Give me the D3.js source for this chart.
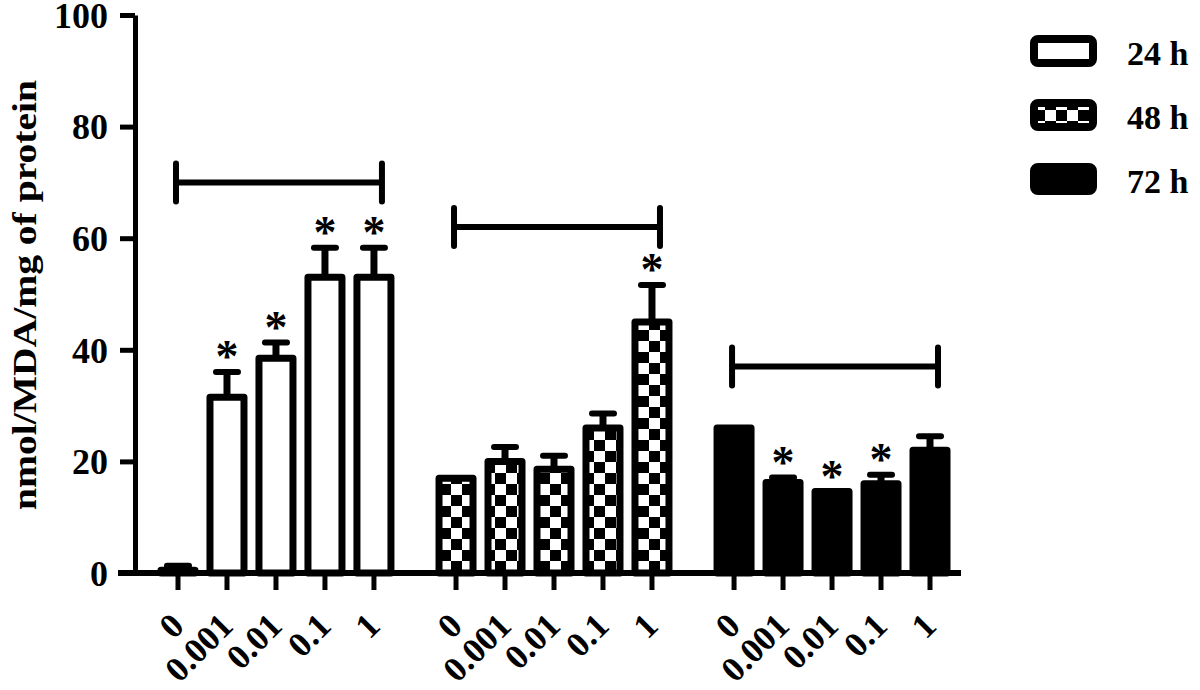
<!DOCTYPE html>
<html>
<head>
<meta charset="utf-8">
<script src="https://cdn.jsdelivr.net/npm/d3@7"></script>
<style>
  html, body { margin: 0; padding: 0; background: #fff; }
  svg { display: block; }
  text { font-family: "Liberation Serif", "Times New Roman", serif; font-weight: bold; fill: #000; }
</style>
</head>
<body>
<svg id="chart" width="1200" height="690"></svg>
<script>
// ---- data ----
const concentrations = ["0", "0.001", "0.01", "0.1", "1"];
const times = ["24 h", "48 h", "72 h"];
const means24 = [0.5, 31.5, 38.5, 53, 53];
const err24   = [0.8, 4.5, 2.8, 5.3, 5.3];
const means48 = [17, 20, 18.6, 26, 45];
const err48   = [0, 2.6, 2.4, 2.6, 6.6];
const means72 = [26, 16.2, 14.6, 16, 22];
const err72   = [0, 0.9, 0, 1.6, 2.5];
const sig24 = [false, true, true, true, true];
const sig48 = [false, false, false, false, true];
const sig72 = [false, true, true, true, false];
const bracketLevels = [70, 62, 37];
const yTicks = [0, 20, 40, 60, 80, 100];
const yTitle = "nmol/MDA/mg of protein";

const series = [
  { time: times[0], means: means24, errs: err24, sig: sig24, fill: "#fff" },
  { time: times[1], means: means48, errs: err48, sig: sig48, fill: "url(#checker)" },
  { time: times[2], means: means72, errs: err72, sig: sig72, fill: "#000" }
];

const svg = d3.select("#chart");

// pattern
const defs = svg.append("defs");
const pat = defs.append("pattern").attr("id", "checker")
  .attr("patternUnits", "userSpaceOnUse").attr("width", 22).attr("height", 22);
pat.append("rect").attr("width", 22).attr("height", 22).attr("fill", "#fff");
pat.append("rect").attr("x", 0).attr("y", 0).attr("width", 11).attr("height", 11).attr("fill", "#000");
pat.append("rect").attr("x", 11).attr("y", 11).attr("width", 11).attr("height", 11).attr("fill", "#000");

// scales
const y = d3.scaleLinear().domain([0, 100]).range([573, 15]);
const xg = d3.scaleBand().domain(times).range([153.5, 954.5]).paddingInner(0.119).paddingOuter(0);
const xc = d3.scaleBand().domain(concentrations).range([0, xg.bandwidth()]).padding(0);
const barW = 34;
const cx = (t, c) => xg(t) + xc(c) + xc.bandwidth() / 2;

// y axis
const yAxis = d3.axisLeft(y).tickValues(yTicks).tickSize(15).tickSizeOuter(0).tickPadding(12);
const yg = svg.append("g").attr("transform", "translate(135,0)").call(yAxis);
yg.select(".domain").attr("stroke", "#000").attr("stroke-width", 5);
yg.selectAll(".tick line").attr("stroke", "#000").attr("stroke-width", 5);
yg.selectAll(".tick text").style("font-family", "Liberation Serif, serif")
  .style("font-weight", "bold").style("font-size", "36px").attr("fill", "#000")
  .attr("dy", "0.34em");

// y title
svg.append("text")
  .attr("transform", `translate(36,295) rotate(-90)`)
  .attr("text-anchor", "middle")
  .attr("font-size", 34)
  .attr("textLength", 430).attr("lengthAdjust", "spacingAndGlyphs")
  .text(yTitle);

// bars
series.forEach(s => {
  const g = svg.append("g");
  concentrations.forEach((c, i) => {
    const m = s.means[i], e = s.errs[i];
    const xm = cx(s.time, c);
    if (e > 0) {
      g.append("line").attr("x1", xm).attr("x2", xm)
        .attr("y1", y(m)).attr("y2", y(m + e))
        .attr("stroke", "#000").attr("stroke-width", 7);
      g.append("line").attr("x1", xm - 11).attr("x2", xm + 11)
        .attr("y1", y(m + e)).attr("y2", y(m + e))
        .attr("stroke", "#000").attr("stroke-width", 6).attr("stroke-linecap", "round");
    }
    g.append("rect")
      .attr("x", xm - barW / 2).attr("width", barW)
      .attr("y", y(m)).attr("height", y(0) - y(m))
      .attr("fill", s.fill).attr("stroke", "#000").attr("stroke-width", 7)
      .attr("stroke-linejoin", "round");
    if (s.sig[i]) {
      g.append("text").attr("x", xm).attr("y", y(m + e))
        .attr("text-anchor", "middle").attr("font-size", 46).text("*");
    }
  });
});

// brackets
series.forEach((s, k) => {
  const x1 = cx(s.time, concentrations[0]) - 2;
  const x2 = cx(s.time, concentrations[concentrations.length - 1]) + 8;
  const yy = y(bracketLevels[k]);
  const g = svg.append("g").attr("stroke", "#000");
  g.append("line").attr("x1", x1).attr("x2", x2).attr("y1", yy).attr("y2", yy).attr("stroke-width", 6);
  [x1, x2].forEach(xx => {
    g.append("line").attr("x1", xx).attr("x2", xx).attr("y1", yy - 19).attr("y2", yy + 19)
      .attr("stroke-width", 6).attr("stroke-linecap", "round");
  });
});

// x axis
svg.append("line").attr("x1", 118).attr("x2", 961).attr("y1", y(0)).attr("y2", y(0))
  .attr("stroke", "#000").attr("stroke-width", 6);
series.forEach(s => {
  concentrations.forEach(c => {
    const xm = cx(s.time, c);
    svg.append("line").attr("x1", xm).attr("x2", xm).attr("y1", y(0)).attr("y2", y(0) + 17)
      .attr("stroke", "#000").attr("stroke-width", 5);
    svg.append("text")
      .attr("transform", `translate(${xm + 8},${y(0) + 55}) rotate(-45)`)
      .attr("text-anchor", "end").attr("font-size", 35).text(c);
  });
});

// legend
series.forEach((s, k) => {
  const cy = 51 + k * 64;
  svg.append("rect").attr("x", 1034).attr("y", cy - 12).attr("width", 59).attr("height", 24)
    .attr("rx", 4).attr("fill", s.fill).attr("stroke", "#000").attr("stroke-width", 8);
  svg.append("text").attr("x", 1127).attr("y", cy + 14).attr("font-size", 34).text(s.time);
});
</script>
</body>
</html>
